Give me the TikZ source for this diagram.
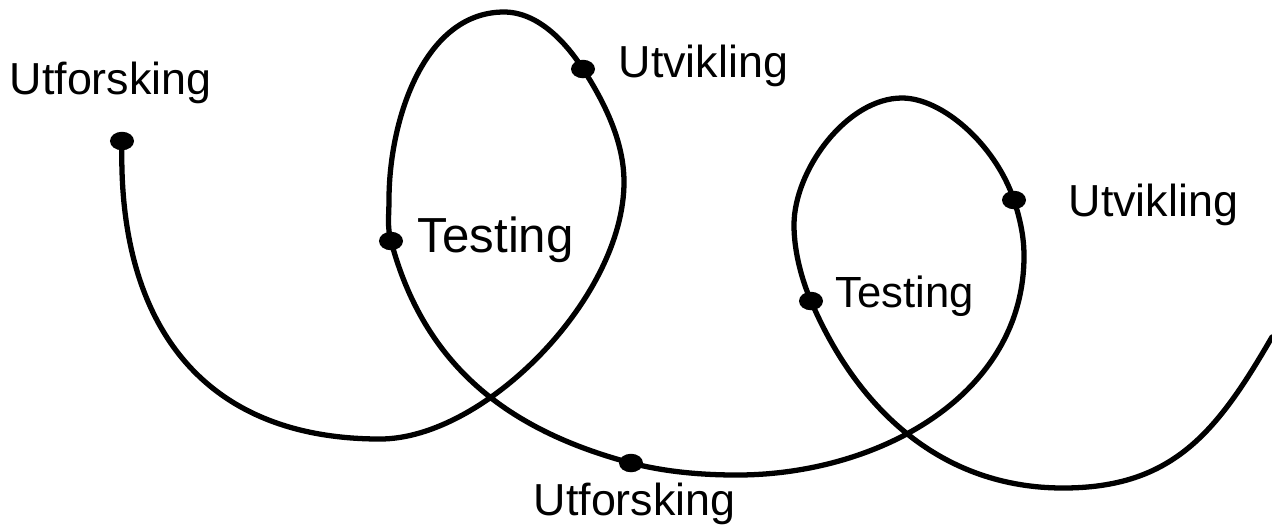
\documentclass[tikz,border=0pt]{standalone}
\usepackage{fontspec}
\setmainfont{Liberation Sans}
\usetikzlibrary{shapes.geometric,positioning}
\tikzset{
	stopp/.style={ellipse,fill=black,inner sep=0pt,minimum width=0.24cm,minimum height=0.185cm},
	fase/.style={inner sep=0pt,anchor=base west,font=\fontsize{12.75}{15}\selectfont},
	spiral/.style={line width=1.5pt,line cap=round}
}

\begin{document}
\begin{tikzpicture}[x=0.01cm,y=0.01cm]
		\useasboundingbox (0,0) rectangle (1272,-526);
		\node[stopp] (utf1) at (122,-141) {};
		\node[stopp] (utv1) at (583,-69) {};
		\node[stopp] (test1) at (391,-241) {};
		\node[stopp] (utf2) at (631,-463) {};
		\node[stopp] (utv2) at (1014,-200) {};
		\node[stopp] (test2) at (811,-301) {};
		\coordinate (b1) at (380,-439);
		\coordinate (r1) at (624,-182);
		\coordinate (o1) at (504,-12);
		\coordinate (v1) at (389,-200);
		\coordinate (b2) at (737,-475);
		\coordinate (r2) at (1024,-256);
		\coordinate (o2) at (902,-98);
		\coordinate (v2) at (794,-225);
		\coordinate (b3) at (1063,-488);
		\coordinate (slutt) at (1272,-337);
		\draw[spiral] (utf1.center) .. controls +(-5,-180) and +(-180,0) .. (b1)
			.. controls +(105,0) and +(0,-115) .. (r1)
			.. controls +(0,40) and +(22,-34) .. (utv1.center)
			.. controls +(-16,25) and +(35,0) .. (o1)
			.. controls +(-80,0) and +(0,80) .. (v1)
			.. controls +(0,-15) and +(-4,14) .. (test1.center)
			.. controls +(33,-124) and +(-124,33) .. (utf2.center)
			.. controls +(35,-9) and +(-35,0) .. (b2)
			.. controls +(140,0) and +(0,-140) .. (r2)
			.. controls +(0,20) and +(6,-19) .. (utv2.center)
			.. controls +(-19,56) and +(40,0) .. (o2)
			.. controls +(-55,0) and +(0,55) .. (v2)
			.. controls +(0,-25) and +(-10,23) .. (test2.center)
			.. controls +(47,-110) and +(-120,0) .. (b3)
			.. controls +(110,0) and +(-55,-95) .. (slutt);
		\node[fase] (lutf1) at (9,-94) {Utforsking};
		\node[fase] (lutv1) at (618,-77) {Utvikling};
		\node[fase,font=\fontsize{14}{16}\selectfont] (ltest1) at (417,-252) {Testing};
		\node[fase] (lutf2) at (533,-515) {Utforsking};
		\node[fase] (lutv2) at (1068,-216) {Utvikling};
		\node[fase,font=\fontsize{12.4}{14}\selectfont] (ltest2) at (835,-307) {Testing};
\end{tikzpicture}
\end{document}
